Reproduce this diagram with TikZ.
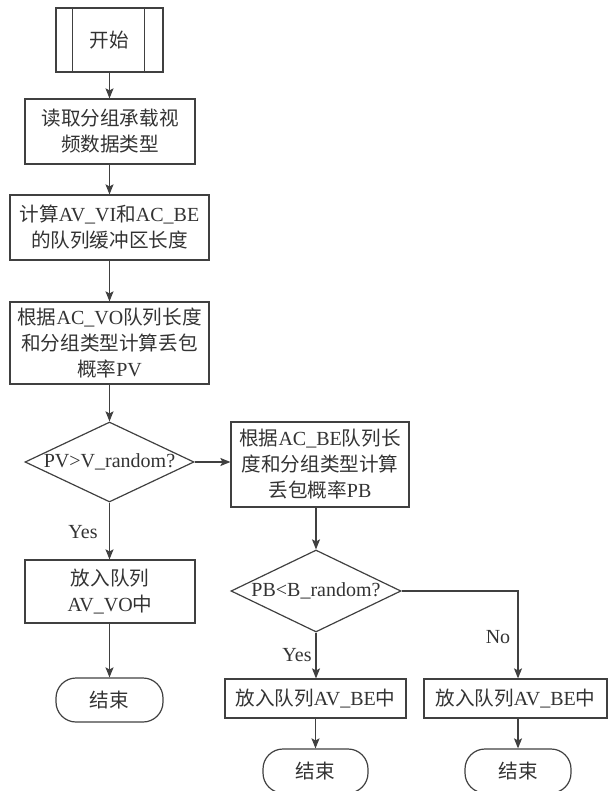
\documentclass[tikz,border=0pt]{standalone}
\usepackage{fontspec}
\setmainfont{Liberation Serif}
\newfontfamily\cjk{Noto Sans CJK SC}[Scale=0.98]
\usetikzlibrary{arrows.meta,shapes.geometric}
\newcommand\zh[1]{{\cjk #1}}
\definecolor{linec}{HTML}{404040}
\definecolor{textc}{HTML}{333333}
\tikzset{
  basefont/.style={font=\fontsize{20}{26}\selectfont, text=textc},
  box/.style={basefont, draw=linec, line width=1.2pt, rectangle, inner sep=0pt, align=center},
  term/.style={box, rounded corners=20pt},
  dec/.style={basefont, draw=linec, line width=1.2pt, diamond, inner sep=0pt},
  flow/.style={draw=linec, line width=1.2pt, -{Stealth[length=10pt,width=8pt,inset=2pt]}},
  lbl/.style={basefont, inner sep=0pt},
}
\begin{document}
\begin{tikzpicture}[x=1pt,y=-1pt]
\useasboundingbox (0,0) rectangle (609,791);
\clip (0,0) rectangle (609,791);
% left column
\node[box, minimum width=107pt, minimum height=64pt] (start) at (109.5,40) {\zh{开始}};
\draw[linec, line width=1.2pt] ([xshift=17pt]start.north west) -- ([xshift=17pt]start.south west);
\draw[linec, line width=1.2pt] ([xshift=-19pt]start.north east) -- ([xshift=-19pt]start.south east);
\node[box, minimum width=170pt, minimum height=65pt] (read) at (110,131.5) {\zh{读取分组承载视}\\\zh{频数据类型}};
\node[box, minimum width=199pt, minimum height=65pt] (calc) at (109.5,227.5) {\zh{计算}AV\_VI\zh{和}AC\_BE\\\zh{的队列缓冲区长度}};
\node[box, minimum width=199pt, minimum height=82pt] (pv) at (109.5,343) {\zh{根据}AC\_VO\zh{队列长度}\\\zh{和分组类型计算丢包}\\\zh{概率}PV};
\node[dec, minimum width=169pt, minimum height=80pt, aspect=2.1] (d1) at (109.5,462) {\makebox[0pt]{PV>V\_random?}};
\node[box, minimum width=170pt, minimum height=63pt] (vo) at (110,591.5) {\zh{放入队列}\\AV\_VO\zh{中}};
\node[term, minimum width=107pt, minimum height=44pt] (end1) at (109.5,700) {\zh{结束}};
% right part
\node[box, minimum width=178pt, minimum height=85pt] (pb) at (320,464.5) {\zh{根据}AC\_BE\zh{队列长}\\\zh{度和分组类型计算}\\\zh{丢包概率}PB};
\node[dec, minimum width=170pt, minimum height=82pt, aspect=2.07] (d2) at (316,591) {\makebox[0pt]{PB<B\_random?}};
\node[box, minimum width=181pt, minimum height=39pt] (be1) at (315.5,698.5) {\zh{放入队列}AV\_BE\zh{中}};
\node[box, minimum width=183pt, minimum height=39pt] (be2) at (515.5,698.5) {\zh{放入队列}AV\_BE\zh{中}};
\node[term, minimum width=105pt, minimum height=44pt] (end2) at (315.5,771) {\zh{结束}};
\node[term, minimum width=106pt, minimum height=44pt] (end3) at (518,771) {\zh{结束}};
\coordinate (nocorner) at (518,591);
% connectors
\draw[flow] (start.south) -- (start.south |- read.north);
\draw[flow] (calc.north |- read.south) -- (calc.north);
\draw[flow] (calc.south) -- (pv.north);
\draw[flow] (pv.south) -- (d1.north);
\draw[flow] (d1.south) -- (d1.south |- vo.north);
\draw[flow] (end1.north |- vo.south) -- (end1.north);
\draw[flow] (d1.east) -- (d1.east -| pb.west);
\draw[flow] (d2.north |- pb.south) -- (d2.north);
\draw[flow] (d2.south) -- (d2.south |- be1.north);
\draw[flow] (d2.east) -- (nocorner) -- (nocorner |- be2.north);
\draw[flow] (end2.north |- be1.south) -- (end2.north);
\draw[flow] (end3.north |- be2.south) -- (end3.north);
% labels
\node[lbl] (yes1) at (83,532) {Yes};
\node[lbl] (yes2) at (297,655) {Yes};
\node[lbl] (no) at (498,637) {No};
\end{tikzpicture}
\end{document}
